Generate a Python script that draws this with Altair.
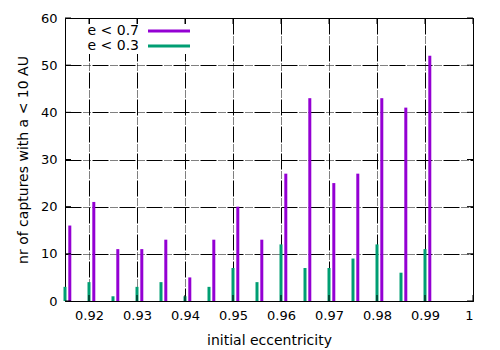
import altair as alt
import pandas as pd
import numpy as np

# data
ecc = [0.915, 0.92, 0.925, 0.93, 0.935, 0.94, 0.945, 0.95, 0.955,
       0.96, 0.965, 0.97, 0.975, 0.98, 0.985, 0.99]
n_e07 = [16, 21, 11, 11, 13, 5, 13, 20, 13, 27, 43, 25, 27, 43, 41, 52]
n_e03 = [3, 4, 1, 3, 4, 1, 3, 7, 4, 12, 7, 7, 9, 12, 6, 11]
series = ["e < 0.7", "e < 0.3"]
colors = ["#9400d3", "#009e73"]
x_ticks = [0.92, 0.93, 0.94, 0.95, 0.96, 0.97, 0.98, 0.99, 1.0]
y_ticks = [0, 10, 20, 30, 40, 50, 60]
shift = 0.001  # e<0.7 bars drawn slightly to the right

W, H = 408, 283
FONT = "DejaVu Sans"

rows = []
for e, a, b in zip(ecc, n_e07, n_e03):
    rows.append({"x": e, "n": b, "series": series[1]})
    rows.append({"x": round(e + shift, 4), "n": a, "series": series[0]})
df = pd.DataFrame(rows)

xscale = alt.Scale(domain=[0.915, 1.0], nice=False, zero=False, padding=0)
yscale = alt.Scale(domain=[0, 60], nice=False, padding=0)
cscale = alt.Scale(domain=series, range=colors)

dash = [16, 2, 1, 1, 1, 1, 1, 1, 1, 2]

xaxis = alt.Axis(values=x_ticks, format=".2~f", title="initial eccentricity",
                 grid=True, gridColor="black", gridDash=dash, gridOpacity=1,
                 gridWidth=1, tickSize=0, labelPadding=8, domain=False,
                 titleX=W / 2, titleY=39, titleBaseline="middle",
                 titleAlign="center")

bars = alt.Chart(df).mark_bar(width=3, clip=False).encode(
    x=alt.X("x:Q", scale=xscale, axis=xaxis),
    y=alt.Y("n:Q", scale=yscale,
            axis=alt.Axis(values=y_ticks, title="nr of captures with a < 10 AU",
                          grid=True, gridColor="black", gridDash=dash, gridOpacity=1,
                          gridWidth=1, tickSize=0, labelPadding=8, domain=False,
                          titleX=-42, titleY=H / 2, titleAngle=270,
                          titleBaseline="middle", titleAlign="center")),
    color=alt.Color("series:N", scale=cscale, legend=None),
)

xt = pd.DataFrame({"t": x_ticks})
yt = pd.DataFrame({"t": y_ticks})
tl = 6
xt_bot = alt.Chart(xt).mark_rule(color="black", strokeWidth=1).encode(
    x=alt.X("t:Q", scale=xscale, axis=xaxis), y=alt.value(H), y2=alt.value(H - tl))
xt_top = alt.Chart(xt).mark_rule(color="black", strokeWidth=1).encode(
    x=alt.X("t:Q", scale=xscale, axis=xaxis), y=alt.value(0), y2=alt.value(tl))
yt_left = alt.Chart(yt).mark_rule(color="black", strokeWidth=1).encode(
    y=alt.Y("t:Q", scale=yscale, axis=None), x=alt.value(0), x2=alt.value(tl))
yt_right = alt.Chart(yt).mark_rule(color="black", strokeWidth=1).encode(
    y=alt.Y("t:Q", scale=yscale, axis=None), x=alt.value(W), x2=alt.value(W - tl))

leg = pd.DataFrame({"series": series})
lyscale = alt.Scale(type="point", domain=series, range=[13, 28], padding=0)
leg_box = alt.Chart(leg).mark_rect(color="white").encode(
    x=alt.value(7), x2=alt.value(130), y=alt.value(6), y2=alt.value(36))
leg_text = alt.Chart(leg).mark_text(align="right", baseline="middle", font=FONT,
                                    fontSize=14, color="black").encode(
    text="series:N", x=alt.value(74),
    y=alt.Y("series:N", scale=lyscale, axis=None))
leg_line = alt.Chart(leg).mark_rule(strokeWidth=3).encode(
    x=alt.value(83), x2=alt.value(125),
    y=alt.Y("series:N", scale=lyscale, axis=None),
    color=alt.Color("series:N", scale=cscale, legend=None))

chart = alt.layer(
    bars, xt_bot, xt_top, yt_left, yt_right,
    alt.layer(leg_box, leg_line, leg_text),
).resolve_scale(y="independent").properties(
    width=W, height=H,
    background="white",
    autosize=alt.AutoSizeParams(type="none"),
    padding={"left": 57, "top": 10, "right": 19, "bottom": 47},
).configure_view(stroke="black", strokeWidth=1).configure_axis(
    labelFont=FONT, labelFontSize=13, labelColor="black",
    titleFont=FONT, titleFontSize=14, titleColor="black", titleFontWeight="normal",
)

chart.save("out.html", embed_options={"renderer": "svg", "actions": False})
